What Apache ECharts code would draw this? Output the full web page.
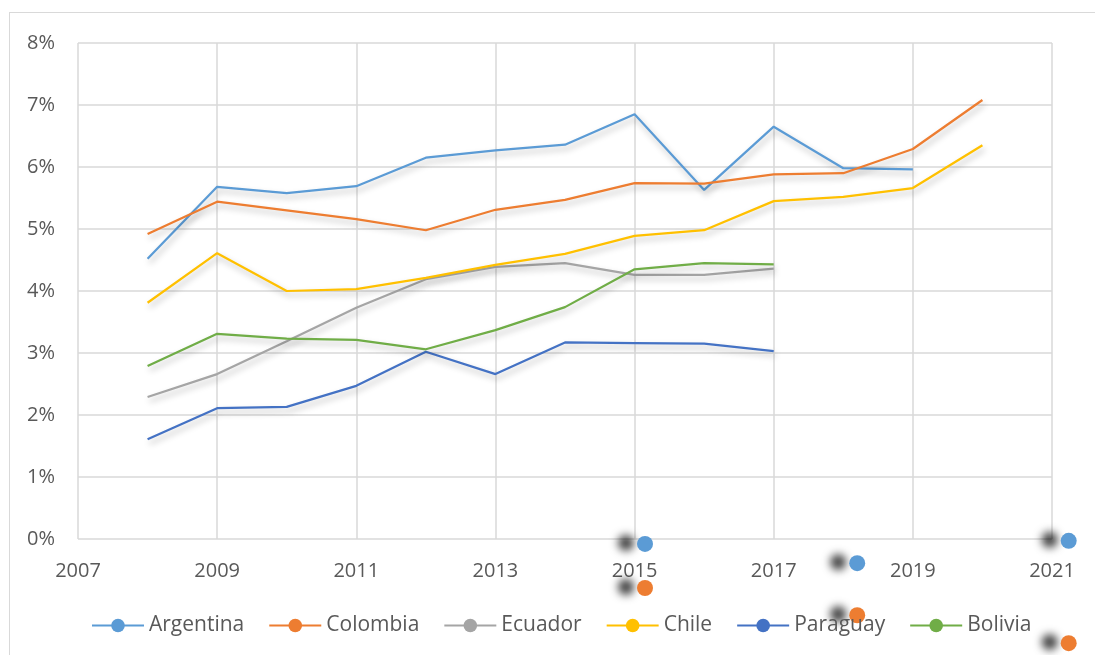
<!DOCTYPE html>
<html>
<head>
<meta charset="utf-8">
<script src="https://cdn.jsdelivr.net/npm/echarts@6/dist/echarts.min.js"></script>
<style>
  html, body { margin: 0; padding: 0; background: #fff; }
  #frame { position: absolute; left: 9px; top: 12px; width: 1200px; height: 800px; border: 1.5px solid #d9d9d9; }
  #lineChart { position: absolute; left: 0; top: 0; width: 1095px; height: 655px; }
</style>
</head>
<body>
<div id="frame"></div>
<div id="lineChart"></div>
<script>
// 年份
const years = [2008, 2009, 2010, 2011, 2012, 2013, 2014, 2015, 2016, 2017, 2018, 2019, 2020]
// 各国数值 (%)
const argentina = [4.52, 5.68, 5.58, 5.69, 6.15, 6.27, 6.36, 6.85, 5.63, 6.65, 5.98, 5.96, null]
const colombia  = [4.92, 5.44, 5.30, 5.16, 4.98, 5.31, 5.47, 5.74, 5.73, 5.88, 5.90, 6.29, 7.08]
const ecuador   = [2.29, 2.66, 3.19, 3.73, 4.19, 4.39, 4.45, 4.26, 4.26, 4.36, null, null, null]
const chile     = [3.81, 4.61, 4.00, 4.03, 4.21, 4.42, 4.60, 4.89, 4.98, 5.45, 5.52, 5.66, 6.35]
const paraguay  = [1.61, 2.11, 2.13, 2.47, 3.02, 2.66, 3.17, 3.16, 3.15, 3.03, null, null, null]
const bolivia   = [2.79, 3.31, 3.23, 3.21, 3.06, 3.37, 3.74, 4.35, 4.45, 4.43, null, null, null]
// 图里多出来的散点 (x年份, y%)
const strayBlue   = [[2015.15, -0.08], [2018.2, -0.39], [2021.24, -0.03]]
const strayOrange = [[2015.15, -0.79], [2018.2, -1.23], [2021.24, -1.68]]

const names = ['Argentina', 'Colombia', 'Ecuador', 'Chile', 'Paraguay', 'Bolivia']
const colors = ['#5B9BD5', '#ED7D31', '#A5A5A5', '#FFC000', '#4472C4', '#70AD47']
const values = [argentina, colombia, ecuador, chile, paraguay, bolivia]

const font = '"Open Sans", "Noto Sans", sans-serif'
const textColor = '#595959'

const pair = (arr) => years.map((y, i) => [y, arr[i]]).filter(d => d[1] !== null)

const lineSeries = names.map((n, k) => ({
  name: n,
  type: 'line',
  data: pair(values[k]),
  symbol: 'circle',
  symbolSize: 13,
  showSymbol: false,
  color: colors[k],
  lineStyle: {
    width: 2.25,
    color: colors[k],
    shadowColor: 'rgba(0,0,0,0.28)',
    shadowBlur: 6,
    shadowOffsetX: 2,
    shadowOffsetY: 4
  },
  itemStyle: { color: colors[k] }
}))

const dotStyle = (c) => ({
  color: c,
  opacity: 1,
  shadowColor: 'rgba(0,0,0,0.75)',
  shadowBlur: 8,
  shadowOffsetX: -19,
  shadowOffsetY: -1
})

let myChart = echarts.init(document.getElementById('lineChart'))
const option = {
  animation: false,
  grid: { left: 78, right: 43, top: 43, bottom: 116 },
  legend: {
    data: names,
    bottom: 14,
    left: 86,
    itemWidth: 52,
    itemHeight: 17,
    itemGap: 24,
    textStyle: { fontFamily: font, fontSize: 21, color: textColor }
  },
  xAxis: {
    type: 'value',
    min: 2007,
    max: 2021,
    interval: 2,
    axisLine: { show: false },
    axisTick: { show: false },
    axisLabel: { fontFamily: font, fontSize: 20, color: textColor, margin: 22, formatter: (v) => String(v) },
    splitLine: { show: true, lineStyle: { color: '#d9d9d9', width: 1.5 } }
  },
  yAxis: {
    type: 'value',
    min: 0,
    max: 8,
    interval: 1,
    axisLine: { show: false },
    axisTick: { show: false },
    axisLabel: { fontFamily: font, fontSize: 20, color: textColor, margin: 23, formatter: '{value}%' },
    splitLine: { show: true, lineStyle: { color: '#d9d9d9', width: 1.5 } }
  },
  series: lineSeries.concat([
    { name: 'dotA', type: 'scatter', data: strayBlue, symbolSize: 16, clip: false, itemStyle: dotStyle('#5B9BD5') },
    { name: 'dotB', type: 'scatter', data: strayOrange, symbolSize: 16, clip: false, itemStyle: dotStyle('#ED7D31') }
  ])
}
myChart.setOption(option)
</script>
</body>
</html>
